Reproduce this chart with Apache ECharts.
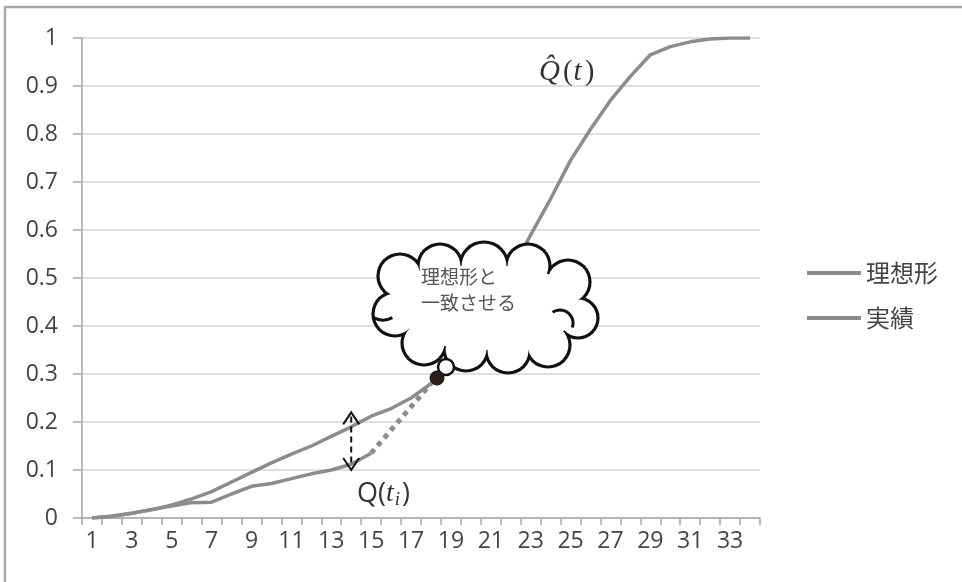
<!DOCTYPE html>
<html>
<head>
<meta charset="utf-8">
<script src="https://cdn.jsdelivr.net/npm/echarts@6/dist/echarts.min.js"></script>
<style>
html,body{margin:0;padding:0;background:#fff;}
#chart{width:962px;height:582px;}
</style>
</head>
<body>
<div id="chart"></div>
<script>
// Time steps 1..34
const categories = ['1','2','3','4','5','6','7','8','9','10','11','12','13','14','15','16','17',
  '18','19','20','21','22','23','24','25','26','27','28','29','30','31','32','33','34'];

// Ideal cumulative curve (理想形)
const idealValues = [0, 0.004, 0.01, 0.017, 0.027, 0.04, 0.055, 0.075, 0.095, 0.115, 0.133, 0.15,
  0.17, 0.19, 0.212, 0.228, 0.25, 0.28, 0.31, 0.36, 0.43, 0.51, 0.59, 0.665, 0.745, 0.81, 0.87,
  0.92, 0.965, 0.982, 0.992, 0.998, 1, 1];

// Actual cumulative results up to t_i = 15 (実績)
const actualValues = [0, 0.003, 0.01, 0.018, 0.025, 0.032, 0.033, 0.05, 0.066, 0.072, 0.082,
  0.092, 0.1, 0.112, 0.135];

// Projection from the last actual point onto the ideal curve
const projectionValues = [null, null, null, null, null, null, null, null, null, null, null, null,
  null, null, 0.135, null, null, 0.28];

const yTicks = [0, 0.1, 0.2, 0.3, 0.4, 0.5, 0.6, 0.7, 0.8, 0.9, 1];

const LINE = '#8c8c8c';
const NUM_FONT = '"Open Sans", "Noto Sans", sans-serif';
const JP_FONT = '"Noto Sans CJK JP", sans-serif';
const MATH_FONT = '"Liberation Serif", serif';

const chart = echarts.init(document.getElementById('chart'), null, {renderer: 'canvas'});

chart.setOption({
  animation: false,
  backgroundColor: '#fff',
  grid: {left: 82, right: 202, top: 38, bottom: 64, containLabel: false},
  legend: {
    orient: 'vertical',
    left: 802,
    top: 256,
    itemGap: 21,
    itemWidth: 54,
    itemHeight: 4,
    icon: 'rect',
    textStyle: {fontFamily: JP_FONT, fontSize: 24, color: '#444'},
    data: ['理想形', '実績']
  },
  xAxis: {
    type: 'category',
    data: categories,
    boundaryGap: true,
    axisLine: {lineStyle: {color: '#a6a6a6', width: 1.5}},
    axisTick: {show: true, interval: 0, length: 7, lineStyle: {color: '#a6a6a6', width: 1.5}},
    axisLabel: {interval: 1, margin: 12, fontFamily: NUM_FONT, fontSize: 23, color: '#444'},
    splitLine: {show: false}
  },
  yAxis: {
    type: 'value',
    min: yTicks[0],
    max: yTicks[yTicks.length - 1],
    interval: 0.1,
    axisLine: {show: true, lineStyle: {color: '#a6a6a6', width: 1.5}},
    axisTick: {show: true, length: 9, lineStyle: {color: '#a6a6a6', width: 1.5}},
    axisLabel: {margin: 24, fontFamily: NUM_FONT, fontSize: 23, color: '#444',
      formatter: v => String(Math.round(v * 10) / 10)},
    splitLine: {lineStyle: {color: '#d4d4d4', width: 1.5}}
  },
  series: [
    {
      name: '理想形', type: 'line', data: idealValues, symbol: 'none',
      color: LINE, lineStyle: {color: LINE, width: 3.5}, z: 3
    },
    {
      name: '実績', type: 'line', data: actualValues, symbol: 'none',
      color: LINE, lineStyle: {color: LINE, width: 3.5}, z: 3
    },
    {
      name: 'projection', type: 'line', data: projectionValues, symbol: 'none', connectNulls: true,
      color: LINE, lineStyle: {color: LINE, width: 5, type: [5, 5]}, z: 3
    }
  ]
});

// Annotations placed through the chart's own coordinate system
function px(i, v) { return chart.convertToPixel({seriesIndex: 0}, [i, v]); }

const arrowTop = px(13, 0.22), arrowBot = px(13, 0.1);
const ax = arrowTop[0];

// Thought bubble: union of bump circles, outlined by drawing a black
// layer slightly larger than a white layer on top of it.
const bumps = [[400,276,22],[440,266,22],[484,266,24],[528,266,22],[568,282,22],[578,318,20],
  [548,345,22],[508,351,22],[466,349,22],[424,343,22],[395,314,22]];
const OUT = 1.6;
const deg = Math.PI / 180;
const cloudEls = [];
bumps.forEach(b => cloudEls.push({type: 'circle', shape: {cx: b[0], cy: b[1], r: b[2] + OUT},
  style: {fill: '#111'}, z: 60, silent: true}));
bumps.forEach(b => cloudEls.push({type: 'circle', shape: {cx: b[0], cy: b[1], r: b[2] - OUT},
  style: {fill: '#fff'}, z: 61, silent: true}));
cloudEls.push({type: 'polygon', shape: {points: bumps.map(b => [b[0], b[1]])},
  style: {fill: '#fff'}, z: 61, silent: true});
// inner curls of the bubble outline
cloudEls.push({type: 'arc', shape: {cx: 560, cy: 323, r: 13, startAngle: 235 * deg, endAngle: 380 * deg},
  style: {stroke: '#111', lineWidth: 3, fill: 'none'}, z: 62, silent: true});
cloudEls.push({type: 'arc', shape: {cx: 383, cy: 300, r: 20, startAngle: 62 * deg, endAngle: 118 * deg, clockwise: true},
  style: {stroke: '#111', lineWidth: 3, fill: 'none'}, z: 62, silent: true});

chart.setOption({
  graphic: [
    // chart frame
    {type: 'rect', shape: {x: 5, y: 7, width: 1000, height: 1000},
      style: {fill: 'none', stroke: '#a9a9a9', lineWidth: 2.5}, z: 1, silent: true},
    // gap arrow between ideal and actual at t_i
    {type: 'line', shape: {x1: ax, y1: arrowTop[1] + 4, x2: ax, y2: arrowBot[1] - 4},
      style: {stroke: '#111', lineWidth: 2, lineDash: [6, 4]}, z: 50},
    {type: 'polyline', shape: {points: [[ax - 8, arrowTop[1] + 12], [ax, arrowTop[1]], [ax + 8, arrowTop[1] + 12]]},
      style: {stroke: '#111', lineWidth: 2, fill: 'none'}, z: 50},
    {type: 'polyline', shape: {points: [[ax - 8, arrowBot[1] - 12], [ax, arrowBot[1]], [ax + 8, arrowBot[1] - 12]]},
      style: {stroke: '#111', lineWidth: 2, fill: 'none'}, z: 50},
    // Q(t_i)
    {type: 'text', x: 357, y: 494, z: 50,
      style: {
        text: '{n|Q(}{t|t}{s|i}{n|)}', verticalAlign: 'middle', align: 'left',
        rich: {
          n: {fontFamily: NUM_FONT, fontSize: 27, fill: '#333'},
          t: {fontFamily: MATH_FONT, fontStyle: 'italic', fontSize: 28, fill: '#333'},
          s: {fontFamily: MATH_FONT, fontStyle: 'italic', fontSize: 19, fill: '#333',
            padding: [12, 2, 0, 1]}
        }
      }},
    // Q-hat(t)
    {type: 'text', x: 539, y: 72, z: 50,
      style: {
        text: '{i|Q\u0302}{u|(}{i|t}{u|)}', verticalAlign: 'middle', align: 'left',
        rich: {
          i: {fontFamily: MATH_FONT, fontStyle: 'italic', fontSize: 29, fill: '#333', padding: [0, 2, 0, 0]},
          u: {fontFamily: MATH_FONT, fontSize: 29, fill: '#333', padding: [0, 1, 0, 1]}
        }
      }},
    ...cloudEls,
    {type: 'text', x: 421, y: 290, z: 63,
      style: {text: '理想形と\n一致させる', fontFamily: JP_FONT, fontSize: 19, lineHeight: 26,
        fill: '#555', verticalAlign: 'middle', align: 'left'}},
    // tail of the bubble
    {type: 'circle', shape: {cx: 446, cy: 367, r: 8}, z: 64,
      style: {fill: '#fff', stroke: '#111', lineWidth: 2.5}},
    {type: 'circle', shape: {cx: 437, cy: 378, r: 7}, z: 65,
      style: {fill: '#2b1d1d', stroke: '#111', lineWidth: 1}}
  ]
});
</script>
</body>
</html>
